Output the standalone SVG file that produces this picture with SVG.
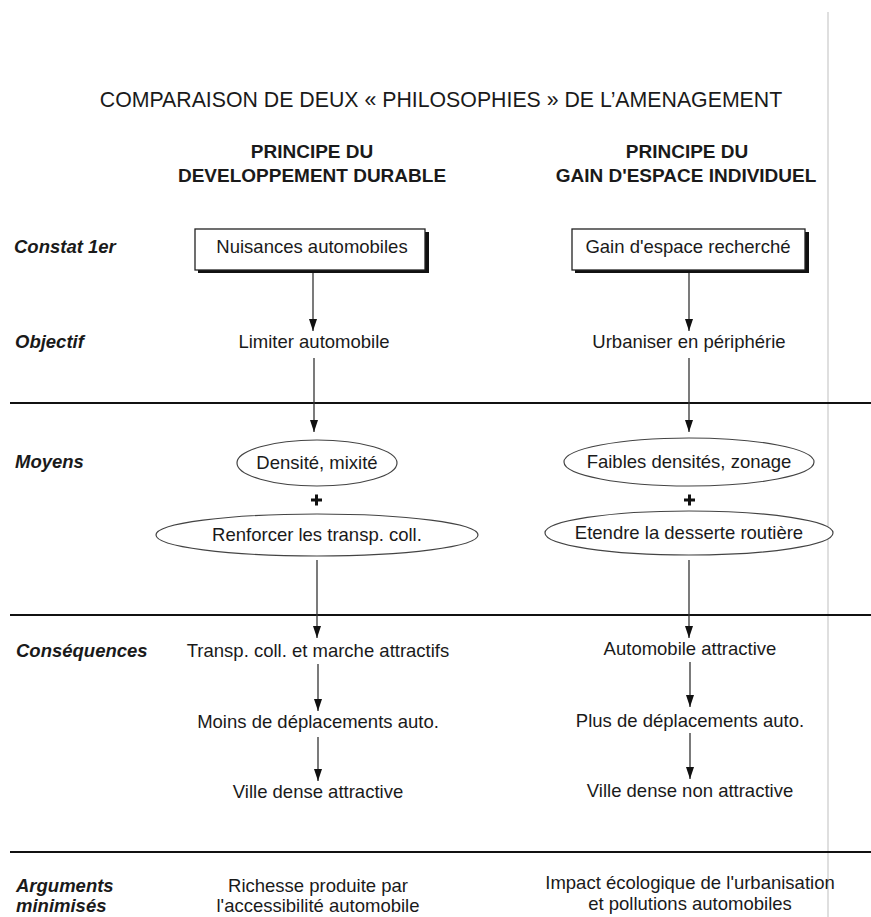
<svg xmlns="http://www.w3.org/2000/svg" width="871" height="917" viewBox="0 0 871 917">
<defs>
<style>
text{font-family:"Liberation Sans",Arial,sans-serif;fill:#1a1a1a}
.t{font-size:21.3px;text-anchor:middle}
.h{font-size:19px;font-weight:bold;text-anchor:middle}
.lbl{font-size:18.5px;font-weight:bold;font-style:italic}
.b{font-size:18.5px;text-anchor:middle}
.box{fill:#fff;stroke:#222;stroke-width:1.3}
.shadow{fill:#111}
.ell{fill:#fff;stroke:#444;stroke-width:1.2}
.conn line{stroke:#333;stroke-width:1.3;marker-end:url(#ah)}
.sep{stroke:#111;stroke-width:2}
</style>
<marker id="ah" viewBox="0 0 12 8" refX="12" refY="4" markerWidth="12" markerHeight="8" markerUnits="userSpaceOnUse" orient="auto">
<path d="M0,0 L12,4 L0,8 Z" fill="#111"/>
</marker>
</defs>
<rect width="871" height="917" fill="#fff"/>
<line x1="828" y1="12" x2="828" y2="917" stroke="#d4d4d4" stroke-width="1.5"/>

<g id="title">
<text class="t" x="441" y="107">COMPARAISON DE DEUX « PHILOSOPHIES » DE L’AMENAGEMENT</text>
</g>
<g id="header-left">
<text class="h" x="312" y="158">PRINCIPE DU</text>
<text class="h" x="312" y="182">DEVELOPPEMENT DURABLE</text>
</g>
<g id="header-right">
<text class="h" x="687" y="158">PRINCIPE DU</text>
<text class="h" x="686" y="182">GAIN D'ESPACE INDIVIDUEL</text>
</g>

<g id="row-labels">
<text class="lbl" x="14" y="253">Constat 1er</text>
<text class="lbl" x="15" y="348">Objectif</text>
<text class="lbl" x="15" y="468">Moyens</text>
<text class="lbl" x="16" y="657">Conséquences</text>
<text class="lbl" x="16" y="892">Arguments</text>
<text class="lbl" x="16" y="912">minimisés</text>
</g>

<g id="separators">
<line class="sep" x1="10" y1="403" x2="871" y2="403"/>
<line class="sep" x1="10" y1="615" x2="871" y2="615"/>
<line class="sep" x1="10" y1="852" x2="871" y2="852"/>
</g>

<g id="connectors" class="conn">
<line x1="313" y1="273" x2="313" y2="331"/>
<line x1="689" y1="273" x2="689" y2="331"/>
<line x1="314" y1="358" x2="314" y2="432"/>
<line x1="689" y1="358" x2="689" y2="432"/>
<line x1="317" y1="560" x2="317" y2="638"/>
<line x1="689" y1="560" x2="689" y2="638"/>
<line x1="318" y1="664" x2="318" y2="711"/>
<line x1="690" y1="662" x2="690" y2="707"/>
<line x1="318" y1="737" x2="318" y2="781"/>
<line x1="690" y1="733" x2="690" y2="779"/>
</g>

<g id="n-nuisances">
<rect class="shadow" x="198" y="232" width="231" height="41"/>
<rect class="box" x="195" y="229" width="230" height="41"/>
<text class="b" x="312" y="253">Nuisances automobiles</text>
</g>
<g id="n-gain">
<rect class="shadow" x="575" y="232" width="234" height="41"/>
<rect class="box" x="572" y="229" width="233" height="41"/>
<text class="b" x="688" y="253">Gain d'espace recherché</text>
</g>

<g id="n-limiter"><text class="b" x="314" y="348">Limiter automobile</text></g>
<g id="n-urbaniser"><text class="b" x="689" y="348">Urbaniser en périphérie</text></g>

<g id="n-densite">
<ellipse class="ell" cx="317" cy="463" rx="80" ry="23"/>
<text class="b" x="317" y="469">Densité, mixité</text>
</g>
<g id="plus-left"><path d="M311,500 h11 M316.5,494.5 v11" stroke="#111" stroke-width="3"/></g>
<g id="n-renforcer">
<ellipse class="ell" cx="317" cy="535" rx="161" ry="21"/>
<text class="b" x="317" y="541">Renforcer les transp. coll.</text>
</g>

<g id="n-faibles">
<ellipse class="ell" cx="689" cy="462" rx="125" ry="24"/>
<text class="b" x="689" y="468">Faibles densités, zonage</text>
</g>
<g id="plus-right"><path d="M684,500 h11 M689.5,494.5 v11" stroke="#111" stroke-width="3"/></g>
<g id="n-etendre">
<ellipse class="ell" cx="689" cy="533" rx="144" ry="22"/>
<text class="b" x="689" y="539">Etendre la desserte routière</text>
</g>

<g id="n-transp"><text class="b" x="318" y="657">Transp. coll. et marche attractifs</text></g>
<g id="n-moins"><text class="b" x="318" y="728">Moins de déplacements auto.</text></g>
<g id="n-ville-attr"><text class="b" x="318" y="798">Ville dense attractive</text></g>

<g id="n-auto-attr"><text class="b" x="690" y="655">Automobile attractive</text></g>
<g id="n-plus"><text class="b" x="690" y="727">Plus de déplacements auto.</text></g>
<g id="n-ville-non"><text class="b" x="690" y="797">Ville dense non attractive</text></g>

<g id="n-richesse">
<text class="b" x="318" y="892">Richesse produite par</text>
<text class="b" x="318" y="912">l'accessibilité automobile</text>
</g>
<g id="n-impact">
<text class="b" x="690" y="889">Impact écologique de l'urbanisation</text>
<text class="b" x="690" y="910">et pollutions automobiles</text>
</g>
</svg>
